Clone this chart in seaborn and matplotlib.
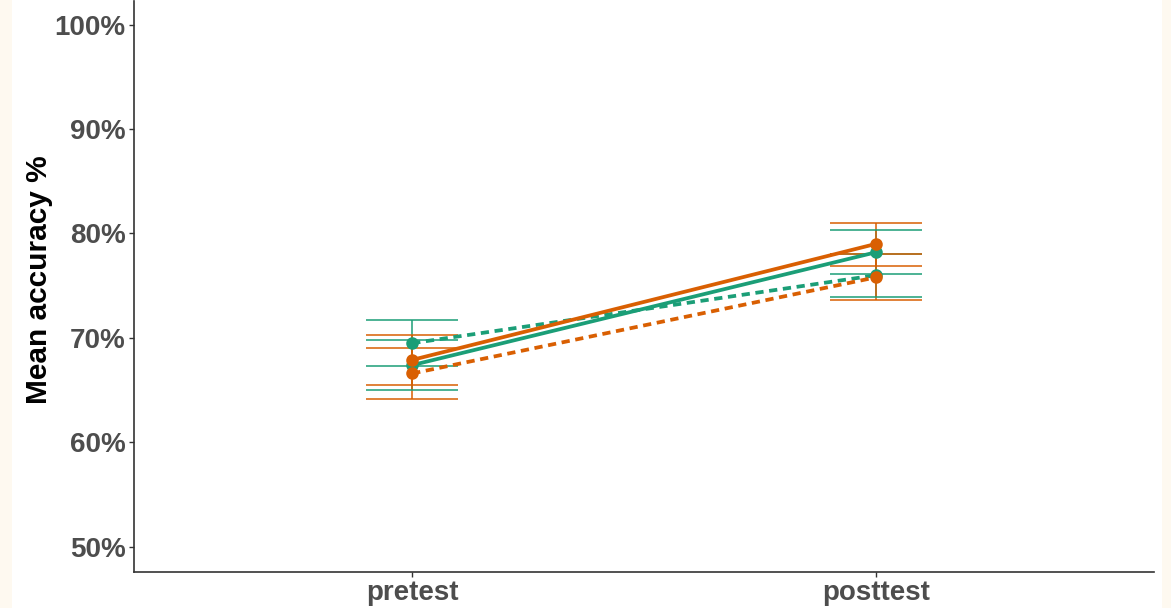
import matplotlib
matplotlib.use("Agg")
import matplotlib.pyplot as plt
import seaborn as sns
import pandas as pd
import numpy as np
from matplotlib.patches import Rectangle
from matplotlib.ticker import FuncFormatter

# Test phases on the x axis
phases = ["pretest", "posttest"]

# Four series: two groups (colour) x two conditions (line style)
series = ["Group B / condition 1", "Group B / condition 2",
          "Group A / condition 1", "Group A / condition 2"]
series_colors = ["#1B9E77", "#1B9E77", "#D95F02", "#D95F02"]
series_styles = ["-", "--", "-", "--"]

# Mean accuracy (%) per series at pretest / posttest
mean_b1 = [67.4, 78.2]
mean_b2 = [69.5, 76.0]
mean_a1 = [67.9, 79.0]
mean_a2 = [66.6, 75.8]

# Error bar bounds (%) per series at pretest / posttest
low_b1, high_b1 = [65.05, 76.1], [69.8, 80.3]
low_b2, high_b2 = [67.3, 73.95], [71.7, 78.05]
low_a1, high_a1 = [65.5, 76.9], [70.3, 81.05]
low_a2, high_a2 = [64.2, 73.6], [69.05, 78.05]

means = [mean_b1, mean_b2, mean_a1, mean_a2]
lows = [low_b1, low_b2, low_a1, low_a2]
highs = [high_b1, high_b2, high_a1, high_a2]

df = pd.DataFrame({
    "phase": [p for _ in series for p in phases],
    "series": [s for s in series for _ in phases],
    "accuracy": [v for m in means for v in m],
})

sns.set_theme(style="white")
plt.rcParams["font.family"] = ["Liberation Sans", "DejaVu Sans"]

fig = plt.figure(figsize=(11.71, 6.08), dpi=100)
fig.patch.set_facecolor("white")
# Cream margins at the left and right edges of the canvas
for x0, w in [(0, 12), (1162, 9)]:
    fig.patches.append(Rectangle((x0 / 1171, 0), w / 1171, 1,
                                 transform=fig.transFigure,
                                 facecolor="#FEF9F0", edgecolor="none",
                                 zorder=-5))
ax = fig.add_axes([134 / 1171, 36 / 608, (1154 - 134) / 1171, 571 / 608])
ax.set_facecolor("white")

# Error bars first, so the lines and points sit on top
x_pos = np.arange(len(phases))
for m, lo, hi, c in zip(means, lows, highs, series_colors):
    m = np.asarray(m)
    yerr = np.vstack([m - np.asarray(lo), np.asarray(hi) - m])
    ax.errorbar(x_pos, m, yerr=yerr, fmt="none", ecolor=c, elinewidth=1.1,
                capsize=33, capthick=1.1, zorder=2)

sns.pointplot(data=df, x="phase", y="accuracy", hue="series", order=phases,
              hue_order=series, palette=dict(zip(series, series_colors)),
              linestyles=series_styles, markers="o", errorbar=None,
              dodge=False, ax=ax, legend=False,
              markersize=7, linewidth=2.7)

for line in ax.lines:
    if line.get_linestyle() == "--":
        line.set_dashes((2.2, 1.5))
    line.set_zorder(3)

ax.set_xlim(-0.6, 1.6)
ax.set_ylim(47.6, 102.25)
ax.set_yticks([50, 60, 70, 80, 90, 100])
ax.yaxis.set_major_formatter(FuncFormatter(lambda v, _: f"{v:.0f}%"))

ax.set_xlabel("")
ax.set_ylabel("Mean accuracy %", fontsize=21.5, fontweight="bold",
              color="black")
ax.yaxis.set_label_coords(-0.079, 0.512)

for lab in ax.get_xticklabels() + ax.get_yticklabels():
    lab.set_fontweight("bold")
    lab.set_fontsize(20)
    lab.set_color("#4D4D4D")

ax.tick_params(axis="both", which="both", length=3.5, width=1.0,
               color="#333333", left=True, bottom=True, pad=2.5)

for side in ["top", "right"]:
    ax.spines[side].set_visible(False)
for side in ["left", "bottom"]:
    ax.spines[side].set_color("#333333")
    ax.spines[side].set_linewidth(1.2)

ax.grid(False)
fig.savefig("out.png", dpi=100, facecolor=fig.get_facecolor())
